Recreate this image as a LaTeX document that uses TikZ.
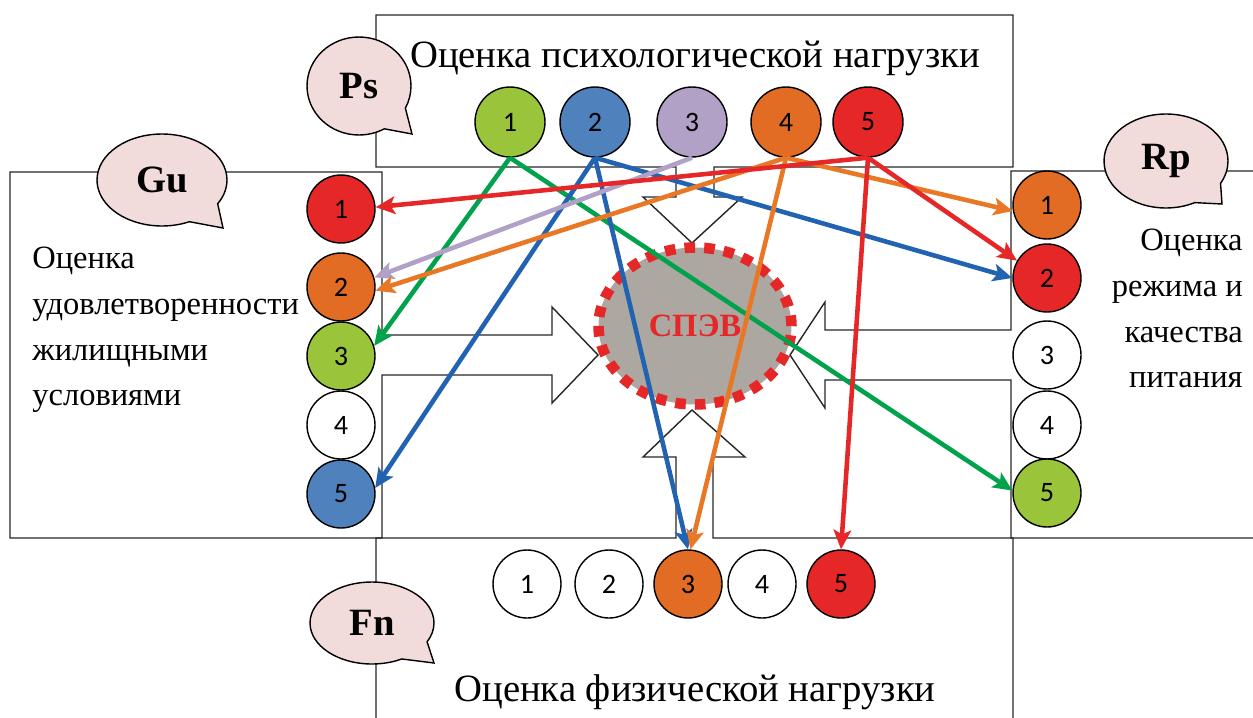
\documentclass[tikz,border=0pt]{standalone}
\usepackage{fontspec}
\setmainfont{Liberation Serif}
\newfontfamily\calibri{Carlito}
\usepackage{tikz}
\usetikzlibrary{arrows.meta,shapes.geometric,shapes.callouts}

\definecolor{rosebulle}{RGB}{242,220,219}
\definecolor{grisspev}{RGB}{172,167,161}
\definecolor{vertpastille}{RGB}{154,197,59}
\definecolor{bleupastille}{RGB}{79,129,189}
\definecolor{mauvepastille}{RGB}{178,161,199}
\definecolor{orangepastille}{RGB}{226,108,36}
\definecolor{rougepastille}{RGB}{229,39,39}
\definecolor{vertfleche}{RGB}{0,163,75}
\definecolor{bleufleche}{RGB}{33,99,176}
\definecolor{orangefleche}{RGB}{232,120,38}

\begin{document}
\begin{tikzpicture}[x=0.02cm, y=-0.02cm,
                    cadre/.style={draw=black!85, line width=0.8pt},
                    pastille/.style={circle, draw, line width=0.8pt, minimum size=1.36cm, inner sep=0pt, font=\calibri\fontsize{16}{16}\selectfont},
                    bulle/.style={ellipse callout, draw, fill=rosebulle, line width=0.8pt, inner sep=0pt, callout pointer arc=34, font=\bfseries\fontsize{22}{22}\selectfont},
                    titre/.style={font=\fontsize{22}{26}\selectfont, inner sep=0pt},
                    legende/.style={font=\fontsize{18.5}{26}\selectfont, inner sep=0pt},
                    fleche/.style={line width=2.6pt, -{Stealth[length=11pt, width=10pt, inset=2.5pt]}}]

	\useasboundingbox (0,0) rectangle (1253,717);

	% les quatre cadres avec leur fleche vers le centre
	\draw[cadre] (376,167) -- (376,15) -- (1013,15) -- (1013,167) -- (714,167) -- (714,197) -- (742,197) -- (692,243) -- (643,197) -- (676,197) -- (676,167) -- cycle;
	
	\draw[cadre] (382,335) -- (382,172) -- (10,172) -- (10,538) -- (382,538) -- (382,375) -- (552,375) -- (552,403) -- (598,355) -- (552,307) -- (552,335) -- cycle;
	
	\draw[cadre] (1260,171) -- (1011,171) -- (1011,330) -- (825,330) -- (825,302) -- (790,355) -- (825,408) -- (825,380) -- (1011,380) -- (1011,538) -- (1260,538);
	
	\draw[cadre] (376,720) -- (376,538) -- (676,538) -- (676,457) -- (643,457) -- (692,410) -- (745,457) -- (713,457) -- (713,538) -- (1013,538) -- (1013,720);

	\node[ellipse, draw=rougepastille, fill=grisspev, line width=6pt, dash pattern=on 6pt off 5.2pt, minimum width=3.86cm, minimum height=3.14cm, inner sep=0pt, text=rougepastille, font=\bfseries\fontsize{18.5}{20}\selectfont] (SPEV) at (695,326) {СПЭВ};

	\node[bulle, minimum width=2.6cm, minimum height=1.84cm, callout absolute pointer={(223,228)}] (BulleGu) at (162,180) {Gu};
	\node[bulle, minimum width=2.08cm, minimum height=1.96cm, callout absolute pointer={(412,134)}] (BullePs) at (359,86) {Ps};
	\node[bulle, minimum width=2.48cm, minimum height=1.88cm, callout absolute pointer={(1222,204)}] (BulleRp) at (1166,161) {Rp};
	\node[bulle, minimum width=2.48cm, minimum height=1.64cm, callout absolute pointer={(434,663)}] (BulleFn) at (372,623) {Fn};

	\node[titre, anchor=base] (TitrePs) at (695,67) {Оценка психологической нагрузки};
	\node[titre, anchor=base] (TitreFn) at (695,701) {Оценка физической нагрузки};
	\node[legende, align=left, anchor=north west] (TexteGu) at (32,247) {Оценка\\удовлетворенности\\жилищными\\условиями};
	\node[legende, align=right, anchor=north east] (TexteRp) at (1243,229) {Оценка\\режима и\\качества\\питания};

	\node[pastille, minimum size=1.4cm, fill=vertpastille] (Ps1) at (510,122) {1};
	\node[pastille, minimum size=1.4cm, fill=bleupastille] (Ps2) at (595,122) {2};
	\node[pastille, minimum size=1.4cm, fill=mauvepastille] (Ps3) at (692,122) {3};
	\node[pastille, minimum size=1.4cm, fill=orangepastille] (Ps4) at (786,122) {4};
	\node[pastille, minimum size=1.4cm, fill=rougepastille] (Ps5) at (868,122) {5};

	\node[pastille, fill=rougepastille] (Gu1) at (341,209) {1};
	\node[pastille, fill=orangepastille] (Gu2) at (341,287) {2};
	\node[pastille, fill=vertpastille] (Gu3) at (341,356) {3};
	\node[pastille, fill=white] (Gu4) at (341,425) {4};
	\node[pastille, fill=bleupastille] (Gu5) at (341,494) {5};

	\node[pastille, fill=orangepastille] (Rp1) at (1047,205) {1};
	\node[pastille, fill=rougepastille] (Rp2) at (1047,278) {2};
	\node[pastille, fill=white] (Rp3) at (1047,355) {3};
	\node[pastille, fill=white] (Rp4) at (1047,425) {4};
	\node[pastille, fill=vertpastille] (Rp5) at (1047,493) {5};

	\node[pastille, fill=white] (Fn1) at (527,584) {1};
	\node[pastille, fill=white] (Fn2) at (609,584) {2};
	\node[pastille, fill=orangepastille] (Fn3) at (688,584) {3};
	\node[pastille, fill=white] (Fn4) at (762,584) {4};
	\node[pastille, fill=rougepastille] (Fn5) at (841,584) {5};

	% liaisons
	\path[fleche, vertfleche] (Ps1.south) edge (Gu3.17) (Ps1.south) edge (Rp5.176);
	\path[fleche, bleufleche] (Ps2.south) edge (Gu5.10) (Ps2.south) edge (Fn3.north) (Ps2.south) edge (Rp2.west);
	\path[fleche, mauvepastille] (Ps3.south) edge (Gu2.16);
	\path[fleche, orangefleche] (Ps4.south) edge (Gu2.-6) (Ps4.south) edge (Rp1.190) (Ps4.south) edge (Fn3.86);
	\path[fleche, rougepastille] (Ps5.south) edge (Gu1.3) (Ps5.south) edge (Rp2.150) (Ps5.south) edge (Fn5.north);

\end{tikzpicture}
\end{document}
